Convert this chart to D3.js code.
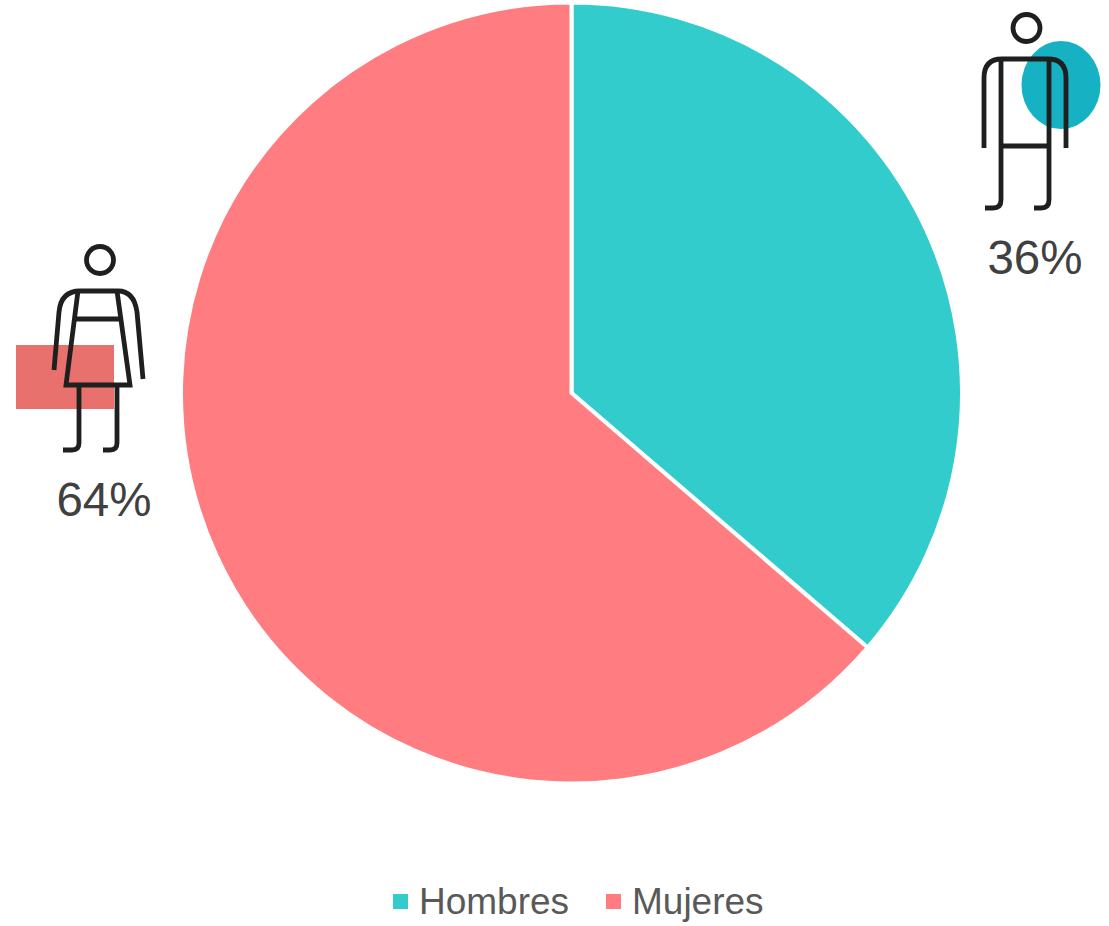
<!DOCTYPE html>
<html><head><meta charset="utf-8">
<style>html,body{margin:0;padding:0;background:#fff}svg{display:block}text{font-family:"Liberation Sans",Arial,sans-serif}</style>
<script src="https://cdn.jsdelivr.net/npm/d3@7"></script></head><body>
<svg id="c" width="1109" height="926"></svg>
<script>
const categories = ["Hombres","Mujeres"];
const values = [36.3,63.7];
const colors = ["#33CCCC","#FF7C80"];

const svg = d3.select("#c");
const color = d3.scaleOrdinal(categories, colors);
const pie = d3.pie().sort(null).value(d=>d.value);
const arc = d3.arc().innerRadius(0).outerRadius(390.5);
const rows = categories.map((name,i)=>({name,value:values[i]}));

svg.append("g").attr("transform","translate(571.5,393)")
  .selectAll("path").data(pie(rows)).join("path")
  .attr("d",arc).attr("fill",d=>color(d.data.name))
  .attr("stroke","#fff").attr("stroke-width",4).attr("stroke-linejoin","round");

// decorative shapes behind the pictograms
svg.append("ellipse").attr("cx",1061).attr("cy",85).attr("rx",39.5).attr("ry",44).attr("fill","#17B1C4");
svg.append("rect").attr("x",16).attr("y",345).attr("width",98).attr("height",64).attr("fill","#E8716D");

const ink = "#1F1F1F";
function icon(paths, head){
  const g = svg.append("g").attr("fill","none").attr("stroke",ink).attr("stroke-width",4.8);
  g.append("circle").attr("cx",head[0]).attr("cy",head[1]).attr("r",head[2]);
  g.selectAll("path").data(paths).join("path").attr("d",d=>d);
}
icon([
 "M984,148V78Q984,59 1002,59H1048Q1066,59 1066,78V148",
 "M1001,59V200Q1001,208 993,208H985",
 "M1049,59V200Q1049,208 1041,208H1034",
 "M1001,146H1049"
],[1026.5,28,13.5]);
icon([
 "M54,370L59,312Q61,291 80,291H118Q134,291 137,312L143,379",
 "M78,291L66,385H130L117,291",
 "M75,319H120",
 "M79,385V443Q79,450 72,450H63",
 "M117,385V443Q117,450 110,450H103"
],[100,260,13.5]);

const pctLabels = [{i:0,x:1035,y:274},{i:1,x:104,y:516}];
svg.selectAll("text.pct").data(pctLabels).join("text").attr("class","pct")
  .attr("x",d=>d.x).attr("y",d=>d.y).attr("text-anchor","middle")
  .attr("font-size",47.5).attr("fill","#404040")
  .text(d=>Math.round(values[d.i])+"%");

const legendX = [393,606], legendTextX=[419,632];
const lg = svg.selectAll("g.lg").data(categories).join("g").attr("class","lg");
lg.append("rect").attr("x",(d,i)=>legendX[i]).attr("y",894).attr("width",15).attr("height",15).attr("fill",d=>color(d));
lg.append("text").attr("x",(d,i)=>legendTextX[i]).attr("y",914)
  .attr("font-size",37).attr("fill","#595959").text(d=>d);
</script></body></html>
